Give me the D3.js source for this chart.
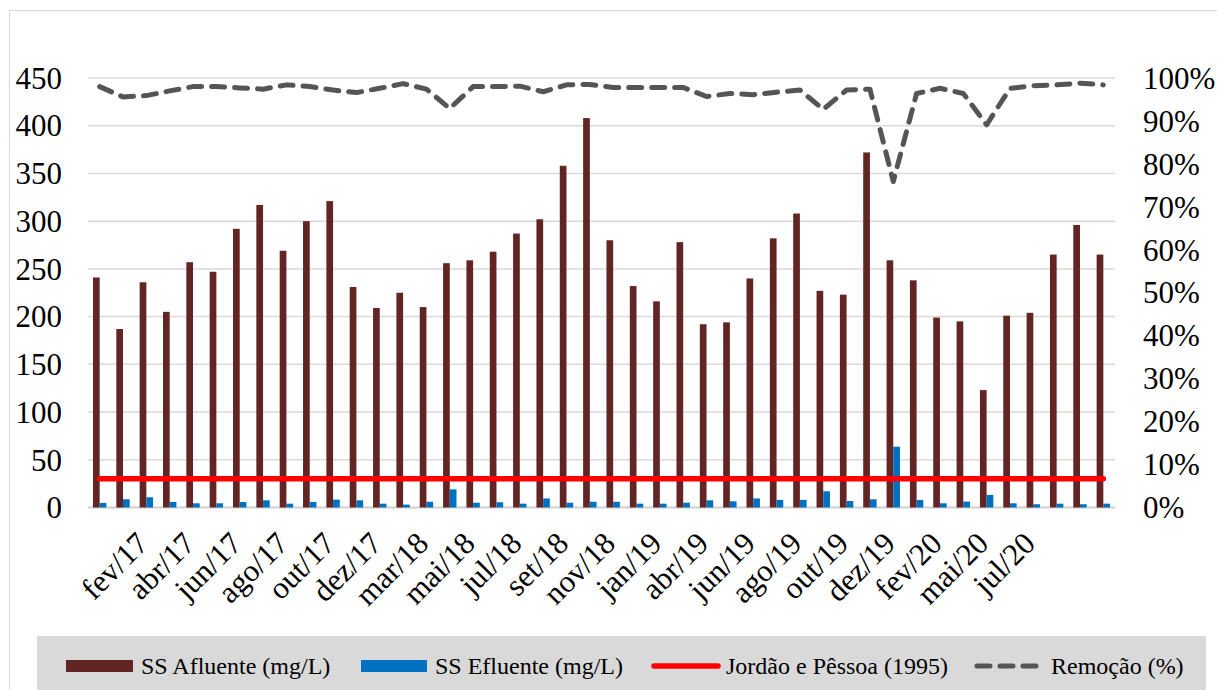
<!DOCTYPE html>
<html><head><meta charset="utf-8">
<script src="https://cdn.jsdelivr.net/npm/d3@7"></script>
<style>body{margin:0;background:#fff}svg{display:block}</style>
</head><body><svg id="c" width="1217" height="690"></svg>
<script>
const tickLabels = ["","","fev/17","","abr/17","","jun/17","","ago/17","","out/17","","dez/17","","mar/18","","mai/18","","jul/18","","set/18","","nov/18","","jan/19","","abr/19","","jun/19","","ago/19","","out/19","","dez/19","","fev/20","","mai/20","","jul/20","","",""];
const afluente = [241,187,236,205,257,247,292,317,269,300,321,231,209,225,210,256,259,268,287,302,358,408,280,232,216,278,192,194,240,282,308,227,223,372,259,238,199,195,123,201,204,265,296,265];
const efluente = [4.8,8.6,10.7,5.8,4.4,4.4,5.8,7.5,4,5.8,8.2,7.5,4,3,6,19,5,5.5,4,9.5,5,6,6,4,4,5,7.5,6.5,9.5,8,8,17,6.8,8.6,63.7,7.9,4.4,6.2,13.2,4.4,3.4,4,3.4,4];
const jordao = 30;
const remocao = [98.0,95.6,95.9,97.0,98.0,98.0,97.7,97.4,98.4,98.0,97.2,96.6,97.6,98.7,97.4,92.9,98.0,98.0,98.1,96.8,98.4,98.5,97.8,97.8,97.8,97.8,95.7,96.4,96.1,96.7,97.2,92.7,97.2,97.4,75.9,96.4,97.6,96.4,89.1,97.6,98.2,98.4,98.8,98.4];
const leftTicks = [0,50,100,150,200,250,300,350,400,450];
const rightTicks = [0,10,20,30,40,50,60,70,80,90,100];
const seriesNames = ["SS Afluente (mg/L)","SS Efluente (mg/L)","Jordão e Pêssoa (1995)","Remoção (%)"];

const FONT = "'Liberation Serif', 'Times New Roman', Tinos, serif";
const svg = d3.select("#c");
const L = 88, R = 1115, T = 78, B = 507.5;
const idx = d3.range(afluente.length);
const x = d3.scaleBand().domain(idx).range([L, R]).padding(0);
const bw = x.bandwidth();
const barW = 6.7;
const xs = d3.scaleBand().domain([0,1]).range([bw/2 - barW, bw/2 + barW]).padding(0);
const y = d3.scaleLinear().domain([0,450]).range([B, T]);
const y2 = d3.scaleLinear().domain([0,100]).range([B, T]);

svg.append("rect").attr("x",9.5).attr("y",10.5).attr("width",1220).attr("height",700).attr("fill","none").attr("stroke","#d9d9d9").attr("stroke-width",1);

svg.append("g").selectAll("line").data(leftTicks.filter(d=>d>0)).join("line")
  .attr("x1",L).attr("x2",R).attr("y1",d=>y(d)).attr("y2",d=>y(d))
  .attr("stroke","#d9d9d9").attr("stroke-width",1.5);
svg.append("line").attr("x1",L).attr("x2",R).attr("y1",y(0)).attr("y2",y(0)).attr("stroke","#d0d0d0").attr("stroke-width",2);

const yAx = d3.axisLeft(y).tickValues(leftTicks).tickSize(0).tickPadding(0);
const gl = svg.append("g").attr("transform",`translate(62,0)`).call(yAx);
gl.select(".domain").remove();
gl.selectAll("text").style("font-family",FONT).style("font-size","31px").attr("dy","0.33em").attr("fill","#000");

const y2Ax = d3.axisRight(y2).tickValues(rightTicks).tickSize(0).tickPadding(0).tickFormat(d=>d+"%");
const gr = svg.append("g").attr("transform",`translate(1143,0)`).call(y2Ax);
gr.select(".domain").remove();
gr.selectAll("text").style("font-family",FONT).style("font-size","31px").attr("dy","0.33em").attr("fill","#000");

const g = svg.append("g");
g.selectAll("rect.a").data(idx).join("rect").attr("class","a")
  .attr("x",i=>x(i)+xs(0)).attr("width",xs.bandwidth())
  .attr("y",i=>y(afluente[i])).attr("height",i=>y(0)-y(afluente[i]))
  .attr("fill","#632523");
g.selectAll("rect.e").data(idx).join("rect").attr("class","e")
  .attr("x",i=>x(i)+xs(1)).attr("width",xs.bandwidth())
  .attr("y",i=>y(efluente[i])).attr("height",i=>y(0)-y(efluente[i]))
  .attr("fill","#0070c0");

svg.append("path").datum(idx)
  .attr("d",d3.line().x(i=>x(i)+bw/2).y(()=>y(jordao)))
  .attr("fill","none").attr("stroke","#ff0000").attr("stroke-width",5.5).attr("stroke-linecap","round");

svg.append("path").datum(idx)
  .attr("d",d3.line().x(i=>x(i)+bw/2).y(i=>y2(remocao[i])))
  .attr("fill","none").attr("stroke","#555555").attr("stroke-width",5).attr("stroke-linecap","round")
  .attr("stroke-linejoin","round").attr("stroke-dasharray","13,10");

const gx = svg.append("g");
gx.selectAll("text").data(idx.filter(i=>tickLabels[i]!=="")).join("text")
  .attr("transform",i=>`translate(${x(i)+bw/2-4},${B+30}) rotate(-45)`)
  .attr("text-anchor","end").attr("dy","0.35em")
  .style("font-family",FONT).style("font-size","31px").attr("fill","#000")
  .text(i=>tickLabels[i]);

const lg = svg.append("g");
lg.append("rect").attr("x",37).attr("y",636).attr("width",1169).attr("height",70).attr("fill","#d9d9d9");
const ly = 666;
lg.append("rect").attr("x",66).attr("y",ly-6).attr("width",67).attr("height",12).attr("fill","#632523");
lg.append("rect").attr("x",361).attr("y",ly-6).attr("width",66).attr("height",12).attr("fill","#0070c0");
lg.append("line").attr("x1",654).attr("x2",718).attr("y1",ly).attr("y2",ly).attr("stroke","#ff0000").attr("stroke-width",5.5).attr("stroke-linecap","round");
lg.append("line").attr("x1",977).attr("x2",1036).attr("y1",ly).attr("y2",ly).attr("stroke","#555555").attr("stroke-width",5).attr("stroke-linecap","round").attr("stroke-dasharray","13,10");
const lx = [141,435,726,1051];
lg.selectAll("text").data(seriesNames).join("text")
  .attr("x",(d,i)=>lx[i]).attr("y",ly).attr("dy","0.33em")
  .style("font-family",FONT).style("font-size","24px").attr("fill","#000").text(d=>d);
</script></body></html>
